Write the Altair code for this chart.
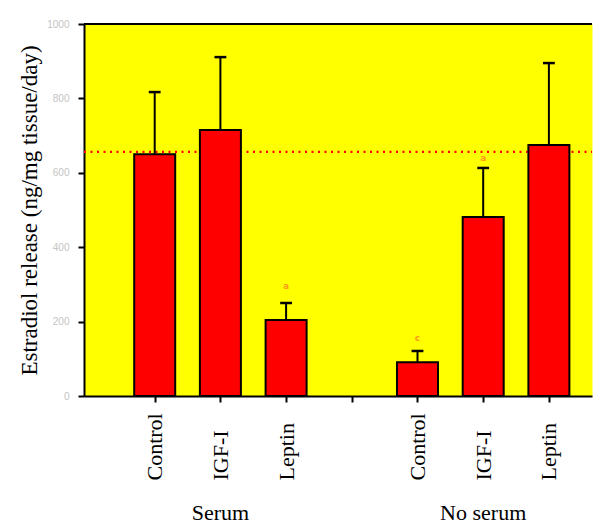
import altair as alt
import pandas as pd

# ---- data ----
positions = [1, 2, 3, 5, 6, 7]
treatments = ["Control", "IGF-I", "Leptin", "Control", "IGF-I", "Leptin"]
means = [650, 715, 204, 91, 481, 675]
upper = [817, 911, 250, 121, 613, 895]

reference_level = 656

sig_positions = [3, 5, 6]
sig_letters = ["a", "c", "a"]
sig_values = [296, 156, 640]

tick_positions = [1, 2, 3, 4, 5, 6, 7]
tick_labels = ["Control", "IGF-I", "Leptin", "", "Control", "IGF-I", "Leptin"]

group_names = ["Serum", "No serum"]
group_positions = [2, 6]

y_ticks = [0, 200, 400, 600, 800, 1000]

W, H = 508, 372
XMAX = 7.58
SERIF = "Liberation Serif"

bars_df = pd.DataFrame({"pos": positions, "treatment": treatments,
                        "mean": means, "upper": upper})
sig_df = pd.DataFrame({"pos": sig_positions, "letter": sig_letters, "val": sig_values})
grp_df = pd.DataFrame({"pos": group_positions, "name": group_names})
ref_df = pd.DataFrame({"level": [reference_level]})

label_js = "[" + ",".join("'" + t + "'" for t in tick_labels) + "]"

x_scale = alt.Scale(domain=[0, XMAX], nice=False, zero=True)
y_scale = alt.Scale(domain=[0, 1000], nice=False)

x_axis = alt.Axis(
    values=tick_positions,
    labelExpr=f"{label_js}[round(datum.value) - 1]",
    labelAngle=270, labelAlign="left", labelBaseline="middle",
    labelPadding=78, labelFont=SERIF, labelFontSize=22, labelColor="black",
    tickColor="black", tickWidth=2, tickSize=6,
    domainColor="black", domainWidth=2, grid=False, title=None,
)
y_axis = alt.Axis(
    values=y_ticks, format="d", labelColor="#c4c4c4", labelFontSize=10,
    labelPadding=9, tickColor="black", tickWidth=2, tickSize=6,
    domainColor="black", domainWidth=2, grid=False,
    title="Estradiol release (ng/mg tissue/day)",
    titleFont=SERIF, titleFontSize=23, titleFontWeight="normal",
    titleColor="black", titlePadding=5,
)

base = alt.Chart(bars_df)

err = base.mark_rule(color="black", strokeWidth=2).encode(
    x=alt.X("pos:Q", scale=x_scale, axis=x_axis),
    y=alt.Y("mean:Q", scale=y_scale, axis=y_axis),
    y2="upper:Q",
)

caps = base.transform_calculate(
    lo="datum.pos - 0.09", hi="datum.pos + 0.09"
).mark_rule(color="black", strokeWidth=2.5).encode(
    x=alt.X("lo:Q", scale=x_scale),
    x2="hi:Q",
    y=alt.Y("upper:Q", scale=y_scale),
)

bars = base.mark_bar(color="#ff0000", stroke="black", strokeWidth=2, size=41).encode(
    x=alt.X("pos:Q", scale=x_scale),
    y=alt.Y("mean:Q", scale=y_scale),
)

ref_line = alt.Chart(ref_df).mark_rule(
    color="#ff0000", strokeWidth=2.2, strokeDash=[2, 4.5]
).encode(
    y=alt.Y("level:Q", scale=y_scale),
    x=alt.value(0), x2=alt.value(W),
)

top_border = alt.Chart(ref_df).mark_rule(color="black", strokeWidth=2).encode(
    y=alt.datum(1000, scale=y_scale),
    x=alt.value(0), x2=alt.value(W),
)

sig = alt.Chart(sig_df).mark_text(
    color="#ff9a1a", fontSize=9, fontWeight="bold", font="DejaVu Sans"
).encode(
    x=alt.X("pos:Q", scale=x_scale),
    y=alt.Y("val:Q", scale=y_scale),
    text="letter:N",
)

groups = alt.Chart(grp_df).mark_text(
    font=SERIF, fontSize=22, color="black", baseline="middle"
).encode(
    x=alt.X("pos:Q", scale=x_scale),
    y=alt.value(489),
    text="name:N",
)

chart = alt.layer(ref_line, err, caps, bars, top_border, sig, groups).properties(
    width=W, height=H,
    padding={"left": 10, "top": 11, "right": 2, "bottom": 2},
).configure(
    background="white"
).configure_view(
    fill="#ffff00", stroke="transparent"
)

chart.save("out.html", embed_options={"renderer": "svg", "actions": False})
